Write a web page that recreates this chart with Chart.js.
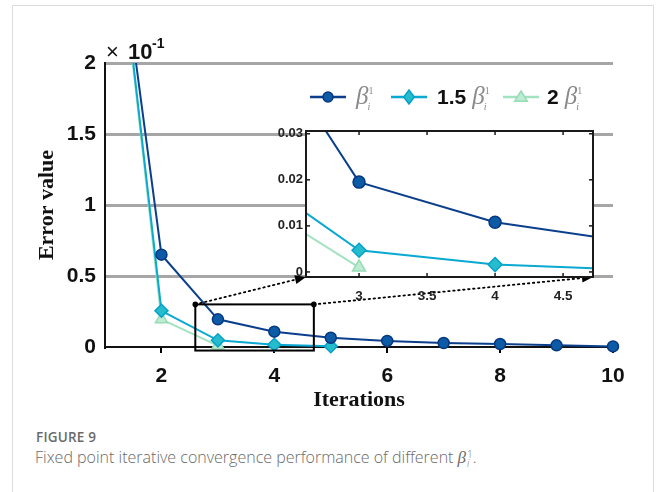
<!DOCTYPE html>
<html>
<head>
<meta charset="utf-8">
<script src="https://cdn.jsdelivr.net/npm/chart.js@4/dist/chart.umd.min.js"></script>
<style>
  html,body{margin:0;padding:0;background:#fff;width:656px;height:492px;overflow:hidden;}
  #frame{position:absolute;left:12px;top:5px;width:642px;height:500px;border:1.5px solid #dcdcdc;border-bottom:none;box-sizing:border-box;}
  #main{position:absolute;left:0;top:0;}
  #inset{position:absolute;left:260px;top:120px;}
  #cap1{position:absolute;left:36px;top:428px;font:600 13.5px "Open Sans",sans-serif;color:#6a6a6a;letter-spacing:0.2px;}
  #cap2{position:absolute;left:35px;top:446px;font:300 16px "Open Sans",sans-serif;color:#6a6a6a;white-space:nowrap;}
  .ss{display:inline-block;vertical-align:-4px;line-height:9px;font-size:10px;margin-left:1px;}
  .ss span{display:block;}
</style>
</head>
<body>
<div id="frame"></div>
<canvas id="main" width="656" height="420"></canvas>
<canvas id="inset" width="345" height="190"></canvas>
<div id="cap1">FIGURE 9</div>
<div id="cap2">Fixed point iterative convergence performance of different <i style="font-family:'Liberation Serif',serif;font-size:17px;">β</i><span class="ss"><span>1</span><span><i>i</i></span></span>.</div>
<script>
// ---- data (main plot in units of 1e-1) ----
const iterations = [1, 2, 3, 4, 5, 6, 7, 8, 9, 10];
const beta1  = [3.65, 0.65, 0.195, 0.108, 0.065, 0.043, 0.028, 0.021, 0.012, 0.004];
const beta15 = [3.75, 0.255, 0.047, 0.016, 0.005];
const beta2  = [3.75, 0.195, 0.010];
const seriesNames = ['β', '1.5 β', '2 β'];
const xTicks = [2, 4, 6, 8, 10];
const yTicks = [0, 0.5, 1, 1.5, 2];
const insetXTicks = [3, 3.5, 4, 4.5];
const insetYTicks = [0, 0.01, 0.02, 0.03];
const yTickLabels = ['0', '0.5', '1', '1.5', '2'];
const insetYTickLabels = ['0', '0.01', '0.02', '0.03'];
const insetXTickLabels = ['3', '3.5', '4', '4.5'];
const zoomBox = {x0: 2.6, x1: 4.7, y0: -0.025, y1: 0.3};

const colors = {
  dark: {line: '#0b3f8c', fill: '#0d5aa6', edge: '#06387f'},
  cyan: {line: '#0aa9d2', fill: '#25bccb', edge: '#06a2cc'},
  green:{line: '#a3e2c1', fill: '#bdebd3', edge: '#98dcb6'}
};

function pts(arr, scale) { return arr.map((v, i) => ({x: iterations[i], y: v * scale})); }

function makeDatasets(scale, big, clip) {
  return [
    {label: seriesNames[0], data: pts(beta1, scale), borderColor: colors.dark.line, backgroundColor: colors.dark.fill,
     pointBorderColor: colors.dark.edge, pointStyle: 'circle', pointRadius: big ? 6 : 5.5, borderWidth: 2, pointBorderWidth: 1.5, clip: clip},
    {label: seriesNames[1], data: pts(beta15, scale), borderColor: colors.cyan.line, backgroundColor: colors.cyan.fill,
     pointBorderColor: colors.cyan.edge, pointStyle: 'rectRot', pointRadius: big ? 7 : 6.5, borderWidth: 2, pointBorderWidth: 1.5, clip: clip},
    {label: seriesNames[2], data: pts(beta2, scale), borderColor: colors.green.line, backgroundColor: colors.green.fill,
     pointBorderColor: colors.green.edge, pointStyle: 'triangle', pointRadius: big ? 7.5 : 7, borderWidth: 2, pointBorderWidth: 1.5, clip: clip}
  ];
}

const INSET = {left: 306, right: 593, top: 131, bottom: 277};

function drawBeta(ctx, x, y) {
  ctx.save();
  ctx.fillStyle = '#8a8a8a';
  ctx.textBaseline = 'alphabetic';
  ctx.textAlign = 'left';
  ctx.font = 'italic 25px "Liberation Serif", serif';
  ctx.fillText('β', x, y + 7);
  const w = ctx.measureText('β').width;
  ctx.font = '10px "Liberation Serif", serif';
  ctx.fillText('1', x + w, y - 3);
  ctx.font = 'italic 10px "Liberation Serif", serif';
  ctx.fillText('i', x + w - 1, y + 13);
  ctx.restore();
}

function marker(ctx, style, x, y, r, c) {
  ctx.save();
  ctx.fillStyle = c.fill; ctx.strokeStyle = c.edge; ctx.lineWidth = 1.5;
  ctx.beginPath();
  if (style === 'circle') ctx.arc(x, y, r, 0, Math.PI * 2);
  else if (style === 'diamond') { ctx.moveTo(x, y - r); ctx.lineTo(x + r*0.75, y); ctx.lineTo(x, y + r); ctx.lineTo(x - r*0.75, y); ctx.closePath(); }
  else { ctx.moveTo(x, y - r); ctx.lineTo(x + r*1.05, y + r*0.7); ctx.lineTo(x - r*1.05, y + r*0.7); ctx.closePath(); }
  ctx.fill(); ctx.stroke();
  ctx.restore();
}

const mainDecor = {
  id: 'mainDecor',
  afterDraw(chart) {
    const ctx = chart.ctx, xs = chart.scales.x, ys = chart.scales.y;
    const rx0 = xs.getPixelForValue(zoomBox.x0), rx1 = xs.getPixelForValue(zoomBox.x1);
    const ry0 = ys.getPixelForValue(zoomBox.y1), ry1 = ys.getPixelForValue(zoomBox.y0);
    ctx.save();
    ctx.strokeStyle = '#000'; ctx.lineWidth = 2;
    ctx.strokeRect(rx0, ry0, rx1 - rx0, ry1 - ry0);
    const links = [[rx0, ry0, INSET.left, INSET.bottom], [rx1, ry0, INSET.right, INSET.bottom]];
    links.forEach(([ax, ay, bx, by]) => {
      const ang = Math.atan2(by - ay, bx - ax);
      const L = 11;
      const ex = bx - Math.cos(ang) * L, ey = by - Math.sin(ang) * L;
      ctx.setLineDash([1.5, 3.5]); ctx.lineWidth = 1.8; ctx.lineCap = 'round';
      ctx.beginPath(); ctx.moveTo(ax, ay); ctx.lineTo(ex, ey); ctx.stroke();
      ctx.setLineDash([]);
      ctx.beginPath(); ctx.arc(ax, ay, 2.8, 0, Math.PI * 2); ctx.fillStyle = '#000'; ctx.fill();
      ctx.beginPath();
      ctx.moveTo(bx, by);
      ctx.lineTo(bx - Math.cos(ang) * L - Math.sin(ang) * 4.5, by - Math.sin(ang) * L + Math.cos(ang) * 4.5);
      ctx.lineTo(bx - Math.cos(ang) * L + Math.sin(ang) * 4.5, by - Math.sin(ang) * L - Math.cos(ang) * 4.5);
      ctx.closePath(); ctx.fill();
    });
    ctx.restore();

    // exponent label
    ctx.save();
    ctx.fillStyle = '#111'; ctx.textBaseline = 'alphabetic'; ctx.textAlign = 'left';
    ctx.font = '22px "Liberation Sans", Arial, sans-serif';
    ctx.fillText('×', 106, 59);
    ctx.font = 'bold 22px "Liberation Sans", Arial, sans-serif';
    ctx.fillText('10', 128, 59);
    ctx.font = 'bold 14px "Liberation Sans", Arial, sans-serif';
    ctx.fillText('-1', 152, 48);
    ctx.restore();

    // legend
    const ly = 97;
    const items = [
      {x: 310, c: colors.dark, m: 'circle', r: 5, pre: '', tx: 356},
      {x: 391, c: colors.cyan, m: 'diamond', r: 7, pre: '1.5', tx: 437},
      {x: 503, c: colors.green, m: 'triangle', r: 6, pre: '2', tx: 547}
    ];
    items.forEach(it => {
      ctx.save();
      ctx.strokeStyle = it.c.line; ctx.lineWidth = 2.5;
      ctx.beginPath(); ctx.moveTo(it.x, ly); ctx.lineTo(it.x + 36, ly); ctx.stroke();
      ctx.restore();
      marker(ctx, it.m, it.x + 18, ly, it.r, it.c);
      let tx = it.tx;
      if (it.pre) {
        ctx.save();
        ctx.font = 'bold 21px "Liberation Sans", Arial, sans-serif';
        ctx.fillStyle = '#111'; ctx.textBaseline = 'middle'; ctx.textAlign = 'left';
        ctx.fillText(it.pre, tx, ly + 1);
        tx += ctx.measureText(it.pre).width + 6;
        ctx.restore();
      }
      drawBeta(ctx, tx, ly);
    });
  }
};

new Chart(document.getElementById('main'), {
  type: 'line',
  data: {datasets: makeDatasets(1, false, {left: 0, top: 0, right: 20, bottom: 20})},
  options: {
    responsive: false, animation: false, devicePixelRatio: 1,
    layout: {padding: {top: 63, right: 43, left: 0, bottom: 0}},
    plugins: {legend: {display: false}, tooltip: {enabled: false}},
    elements: {line: {tension: 0}},
    scales: {
      x: {
        type: 'linear', min: 1, max: 10,
        afterBuildTicks: s => { s.ticks = xTicks.map(v => ({value: v})); },
        afterFit: s => { s.height = 73; },
        grid: {display: true, drawOnChartArea: false, drawTicks: true, tickLength: 6, color: '#000', lineWidth: 2},
        border: {display: true, color: '#111', width: 2},
        ticks: {color: '#111', padding: 11, font: {family: '"Liberation Sans", Arial, sans-serif', size: 21, weight: 'bold'}},
        title: {display: true, text: 'Iterations', color: '#111', padding: {top: 0, bottom: 6},
                font: {family: '"Liberation Serif", "Times New Roman", serif', size: 22, weight: 'bold'}}
      },
      y: {
        min: 0, max: 2,
        afterBuildTicks: s => { s.ticks = yTicks.map(v => ({value: v})); },
        afterFit: s => { s.width = 105; },
        grid: {drawTicks: false, lineWidth: 3,
               color: c => (c.tick && c.tick.value === 0) ? 'rgba(0,0,0,0)' : '#a6a6a6'},
        border: {display: true, color: '#111', width: 2},
        ticks: {color: '#111', padding: 9, callback: (v) => yTickLabels[yTicks.indexOf(v)],
                font: {family: '"Liberation Sans", Arial, sans-serif', size: 21, weight: 'bold'}},
        title: {display: true, text: 'Error value', color: '#111', padding: {top: 34, bottom: 0},
                font: {family: '"Liberation Serif", "Times New Roman", serif', size: 22, weight: 'bold'}}
      }
    }
  },
  plugins: [mainDecor]
});

const insetDecor = {
  id: 'insetDecor',
  beforeDatasetsDraw(chart) {
    const a = chart.chartArea, ctx = chart.ctx;
    ctx.save(); ctx.fillStyle = '#fff';
    ctx.fillRect(a.left, a.top, a.right - a.left, a.bottom - a.top);
    ctx.restore();
  },
  afterDraw(chart) {
    const a = chart.chartArea, ctx = chart.ctx, xs = chart.scales.x, ys = chart.scales.y;
    ctx.save();
    ctx.strokeStyle = '#1a1a1a'; ctx.lineWidth = 2;
    ctx.strokeRect(a.left, a.top, a.right - a.left, a.bottom - a.top);
    ctx.lineWidth = 1.5;
    insetXTicks.forEach(v => {
      const px = xs.getPixelForValue(v);
      ctx.beginPath(); ctx.moveTo(px, a.bottom); ctx.lineTo(px, a.bottom - 4); ctx.stroke();
      ctx.beginPath(); ctx.moveTo(px, a.top); ctx.lineTo(px, a.top + 4); ctx.stroke();
    });
    insetYTicks.forEach(v => {
      const py = ys.getPixelForValue(v);
      ctx.beginPath(); ctx.moveTo(a.left, py); ctx.lineTo(a.left + 4, py); ctx.stroke();
      ctx.beginPath(); ctx.moveTo(a.right, py); ctx.lineTo(a.right - 4, py); ctx.stroke();
    });
    ctx.restore();
  }
};

new Chart(document.getElementById('inset'), {
  type: 'line',
  data: {datasets: makeDatasets(0.1, true, true)},
  options: {
    responsive: false, animation: false, devicePixelRatio: 1,
    layout: {padding: {top: 11, right: 12, left: 0, bottom: 0}},
    plugins: {legend: {display: false}, tooltip: {enabled: false}},
    scales: {
      x: {
        type: 'linear', min: 2.61, max: 4.72,
        afterBuildTicks: s => { s.ticks = insetXTicks.map(v => ({value: v})); },
        afterFit: s => { s.height = 33; },
        grid: {display: false, drawTicks: false},
        border: {display: false},
        ticks: {color: '#222', padding: 11, callback: v => insetXTickLabels[insetXTicks.indexOf(v)],
                font: {family: '"Liberation Sans", Arial, sans-serif', size: 13.5, weight: 'bold'}}
      },
      y: {
        min: -0.0011, max: 0.0306,
        afterBuildTicks: s => { s.ticks = insetYTicks.map(v => ({value: v})); },
        afterFit: s => { s.width = 46; },
        grid: {display: false, drawTicks: false},
        border: {display: false},
        ticks: {color: '#222', padding: 3, callback: v => insetYTickLabels[insetYTicks.indexOf(v)],
                font: {family: '"Liberation Sans", Arial, sans-serif', size: 13, weight: 'bold'}}
      }
    }
  },
  plugins: [insetDecor]
});
</script>
</body>
</html>
